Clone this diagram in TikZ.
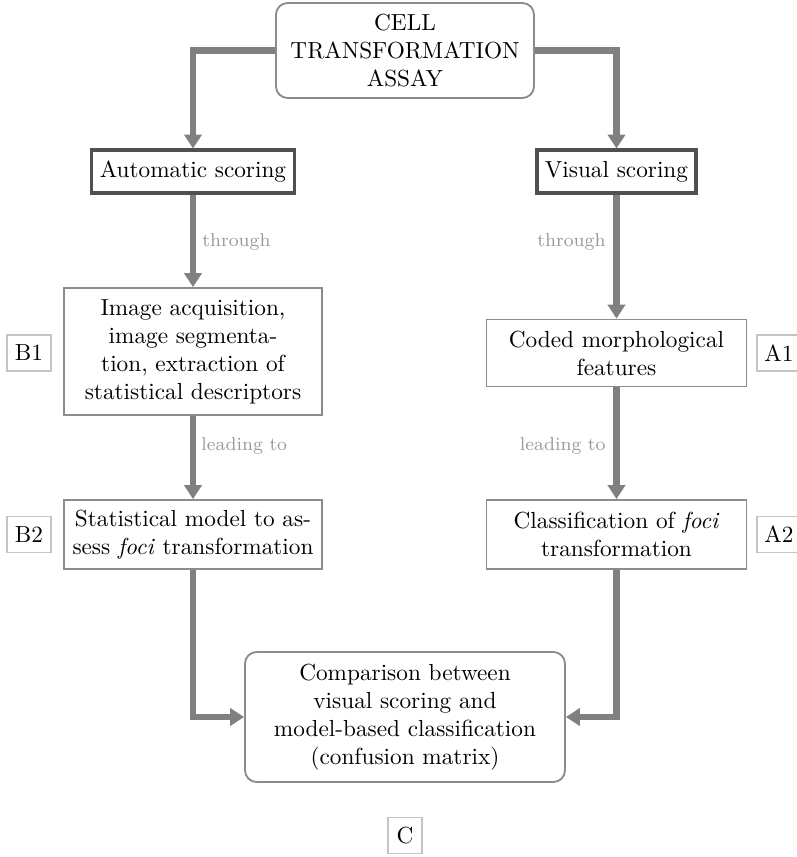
\documentclass[tikz,border=0pt]{standalone}
\usetikzlibrary{arrows.meta}
\def\pxu{0.43pt}
\definecolor{flowgray}{HTML}{808080}
\definecolor{boxgray}{HTML}{8C8C8C}
\definecolor{darkbox}{HTML}{505050}
\definecolor{tagedge}{HTML}{C4C4C4}
\definecolor{notegray}{HTML}{9A9A9A}
\begin{document}
\begin{tikzpicture}[x=\pxu, y=-\pxu,
  flow/.style={draw=flowgray, line width=2.6pt, -{Triangle[width=7.4pt,length=6pt]}},
  stepbox/.style={draw=boxgray, line width=0.8pt, align=center, inner sep=0pt},
  roundbox/.style={stepbox, rounded corners=5pt},
  scorebox/.style={draw=darkbox, line width=1.3pt, align=center, inner sep=0pt},
  tagbox/.style={draw=tagedge, line width=0.7pt, minimum width=44*\pxu, minimum height=36*\pxu, inner sep=0pt},
  note/.style={text=notegray, font=\footnotesize, inner sep=0pt}
]
\useasboundingbox (0,0) rectangle (797,857);
\clip (0,0) rectangle (797,857);

% main flow boxes
\node[roundbox, minimum width=258*\pxu, minimum height=95*\pxu] (cta) at (405,50.5) {CELL\\TRANSFORMATION\\ASSAY};
\node[scorebox, minimum width=203*\pxu, minimum height=43*\pxu] (auto) at (193,171.5) {Automatic scoring};
\node[scorebox, minimum width=159*\pxu, minimum height=43*\pxu] (vis) at (616.5,171.5) {Visual scoring};
\node[stepbox, minimum width=258*\pxu, minimum height=127*\pxu] (img) at (193,351.5) {Image acquisition,\\image segmenta-\\tion, extraction of\\statistical descriptors};
\node[stepbox, minimum width=260*\pxu, minimum height=67*\pxu] (coded) at (616.5,353) {Coded morphological\\features};
\node[stepbox, minimum width=258*\pxu, minimum height=69*\pxu] (stat) at (193,534.5) {Statistical model to as-\\sess \emph{foci} transformation};
\node[stepbox, minimum width=260*\pxu, minimum height=69*\pxu] (cls) at (616.5,534.5) {Classification of \emph{foci}\\transformation};
\node[roundbox, minimum width=320*\pxu, minimum height=130*\pxu] (cmp) at (405,717) {Comparison between\\visual scoring and\\model-based classification\\(confusion matrix)};

% side tags
\node[tagbox] (b1) at (29,353) {B1};
\node[tagbox] (a1) at (779,353) {A1};
\node[tagbox] (b2) at (29,534.5) {B2};
\node[tagbox] (a2) at (779,534.5) {A2};
\node[tagbox, minimum width=34*\pxu] (c) at (405,835.5) {C};

% connector notes
\node[note, anchor=west] (thl) at (202,242) {through};
\node[note, anchor=east] (thr) at (606,242) {through};
\node[note, anchor=west] (lel) at (201,446) {leading to};
\node[note, anchor=east] (ler) at (606,446) {leading to};

% connectors
\draw[flow] (cta.west) -| (auto.north);
\draw[flow] (cta.east) -| (vis.north);
\draw[flow] (auto.south) -- (img.north);
\draw[flow] (vis.south) -- (coded.north);
\draw[flow] (img.south) -- (stat.north);
\draw[flow] (coded.south) -- (cls.north);
\draw[flow] (stat.south) |- (cmp.west);
\draw[flow] (cls.south) |- (cmp.east);
\end{tikzpicture}
\end{document}
